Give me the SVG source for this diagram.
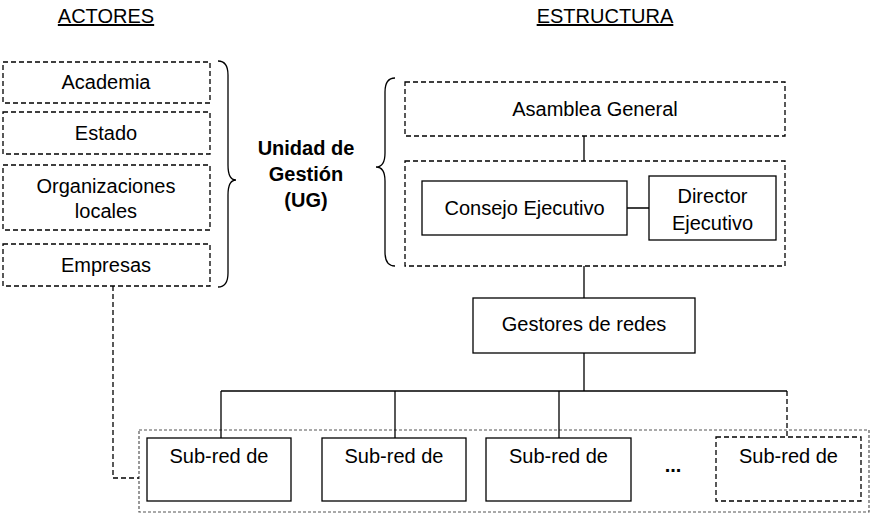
<svg xmlns="http://www.w3.org/2000/svg" width="872" height="513" viewBox="0 0 872 513">
<style>
text{font-family:"Liberation Sans",Arial,sans-serif;font-size:20px;fill:#000;text-anchor:middle}
.b{font-weight:bold}
.u{text-decoration:underline}
.solid{fill:#fff;stroke:#000;stroke-width:1.3}
.dash{fill:none;stroke:#000;stroke-width:1.3;stroke-dasharray:5 3}
.dot{fill:none;stroke:#555;stroke-width:1.2;stroke-dasharray:3 2}
.ln{fill:none;stroke:#000;stroke-width:1.3}
</style>
<rect width="872" height="513" fill="#fff"/>
<g id="headers">
<text class="u" x="106" y="23">ACTORES</text>
<text class="u" x="605" y="23">ESTRUCTURA</text>
</g>
<g id="outer-subredes"><rect class="dot" x="139" y="430" width="730" height="82"/></g>
<g id="connectors">
<path class="ln" d="M584 136V161M584 266V298M627 208H649M584 353V391M221 391H787M221 391V438M395 391V438M559 391V438"/>
<path class="dash" d="M787 391V437M113 286V478H139"/>
<path class="ln" d="M218 61Q228 61 228 75V165Q228 180 236 180Q228 180 228 195V273Q228 287 218 287"/>
<path class="ln" d="M395 78Q385 78 385 92V153Q385 167 376 167Q385 167 385 181V252Q385 266 395 266"/>
</g>
<g id="academia"><rect class="dash" x="3" y="62" width="207" height="41"/><text x="106" y="89">Academia</text></g>
<g id="estado"><rect class="dash" x="3" y="112" width="207" height="42"/><text x="106" y="140">Estado</text></g>
<g id="organizaciones"><rect class="dash" x="3" y="165" width="207" height="65"/><text x="106" y="193">Organizaciones</text><text x="106" y="218">locales</text></g>
<g id="empresas"><rect class="dash" x="3" y="244" width="207" height="42"/><text x="106" y="272">Empresas</text></g>
<g id="ug"><text class="b" x="306" y="155">Unidad de</text><text class="b" x="306" y="181">Gestión</text><text class="b" x="306" y="207">(UG)</text></g>
<g id="asamblea"><rect class="dash" x="405" y="82" width="380" height="54"/><text x="595" y="116">Asamblea General</text></g>
<g id="ejecutivo-grupo"><rect class="dash" x="405" y="161" width="380" height="105"/></g>
<g id="consejo"><rect class="solid" x="422" y="181" width="205" height="54"/><text x="524.5" y="215">Consejo Ejecutivo</text></g>
<g id="director"><rect class="solid" x="649" y="176" width="127" height="64"/><text x="712.5" y="203">Director</text><text x="712.5" y="230">Ejecutivo</text></g>
<g id="gestores"><rect class="solid" x="473" y="298" width="222" height="55"/><text x="584" y="331">Gestores de redes</text></g>
<g id="subred1"><rect class="solid" x="147" y="438" width="144" height="63"/><text x="219" y="463">Sub-red de</text></g>
<g id="subred2"><rect class="solid" x="322" y="438" width="144" height="63"/><text x="394" y="463">Sub-red de</text></g>
<g id="subred3"><rect class="solid" x="486" y="438" width="145" height="63"/><text x="558.5" y="463">Sub-red de</text></g>
<g id="ellipsis"><text class="b" x="673" y="472">...</text></g>
<g id="subred4"><rect class="dash" x="716" y="437" width="145" height="64"/><text x="788.5" y="463">Sub-red de</text></g>
</svg>
